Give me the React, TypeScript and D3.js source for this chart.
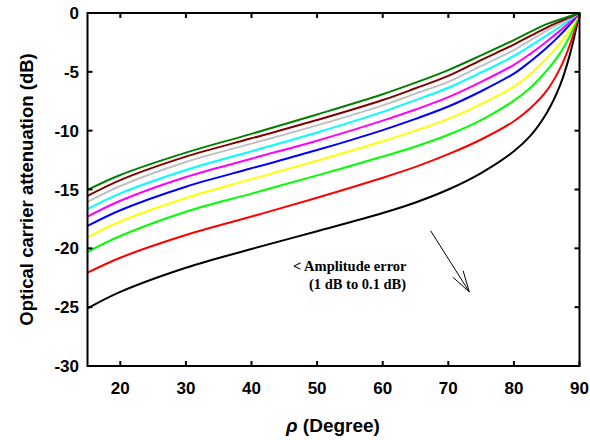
import * as d3 from 'd3';

// rho (degree) sample positions
const rho = [15, 20, 30, 40, 50, 60, 65, 70, 75, 80, 82.5, 85, 87, 88.5, 90];

// attenuation (dB) per curve, amplitude error 1 dB (black) down to 0.1 dB (dark green)
const black = [-25.1, -23.7, -21.65, -20.05, -18.55, -17.0, -16.1, -15.0, -13.6, -11.75, -10.45, -8.5, -6.2, -3.6, 0];
const red = [-22.07, -20.8, -18.87, -17.3, -15.7, -14.0, -13.08, -12.0, -10.75, -9.2, -8.1, -6.6, -4.75, -2.75, 0];
const green = [-20.3, -18.95, -16.89, -15.35, -13.8, -12.2, -11.35, -10.35, -9.1, -7.45, -6.35, -4.9, -3.45, -2.0, 0];
const yellow = [-19.06, -17.72, -15.72, -14.12, -12.55, -10.9, -10.0, -9.0, -7.75, -6.25, -5.2, -3.85, -2.6, -1.5, 0];
const blue = [-18.1, -16.76, -14.76, -13.2, -11.65, -9.95, -9.0, -7.95, -6.65, -5.15, -4.12, -2.95, -1.9, -1.0, 0];
const magenta = [-17.31, -15.96, -13.94, -12.38, -10.85, -9.15, -8.2, -7.15, -5.85, -4.4, -3.47, -2.42, -1.52, -0.78, 0];
const cyan = [-16.66, -15.33, -13.34, -11.75, -10.15, -8.4, -7.4, -6.35, -5.05, -3.65, -2.8, -1.9, -1.17, -0.58, 0];
const gray = [-16.06, -14.7, -12.66, -11.1, -9.55, -7.85, -6.85, -5.85, -4.5, -3.15, -2.32, -1.5, -0.9, -0.45, 0];
const brown = [-15.55, -14.2, -12.21, -10.65, -9.1, -7.4, -6.4, -5.35, -4.0, -2.68, -1.95, -1.24, -0.73, -0.36, 0];
const darkGreen = [-15.04, -13.77, -11.87, -10.27, -8.62, -6.9, -5.92, -4.85, -3.6, -2.3, -1.6, -0.95, -0.55, -0.27, 0];

const series = [
  { values: black, color: '#000000' },
  { values: red, color: '#ff0000' },
  { values: green, color: '#00ff00' },
  { values: yellow, color: '#ffff00' },
  { values: blue, color: '#0000ff' },
  { values: magenta, color: '#ff00ff' },
  { values: cyan, color: '#00ffff' },
  { values: gray, color: '#c0c0c0' },
  { values: brown, color: '#800000' },
  { values: darkGreen, color: '#008000' },
];

const xTicks = [20, 30, 40, 50, 60, 70, 80, 90];
const yTicks = [0, -5, -10, -15, -20, -25, -30];

const W = 590;
const H = 440;
const left = 87.5;
const right = 579.5;
const top = 13;
const bottom = 366;

export default function App() {
  const x = d3.scaleLinear().domain([15, 90]).range([left, right]);
  const y = d3.scaleLinear().domain([-30, 0]).range([bottom, top]);

  const line = d3
    .line<number>()
    .x((_, i) => x(rho[i]))
    .y((d) => y(d))
    .curve(d3.curveCatmullRom.alpha(0.5));

  // annotation arrow (data coords)
  const a0 = [x(67.3), y(-18.5)];
  const a1 = [x(73.2), y(-23.7)];
  const ang = Math.atan2(a1[1] - a0[1], a1[0] - a0[0]);
  const headLen = 22;
  const spread = 0.28;
  const h1 = [a1[0] - headLen * Math.cos(ang - spread), a1[1] - headLen * Math.sin(ang - spread)];
  const h2 = [a1[0] - headLen * Math.cos(ang + spread), a1[1] - headLen * Math.sin(ang + spread)];

  const tick = 5;
  const sans = 'Liberation Sans, Arial, sans-serif';
  const serif = 'Liberation Serif, Times New Roman, serif';

  return (
    <svg width={W} height={H} style={{ position: 'absolute', left: 0, top: 0, background: '#fff' }}>
      {series.map((s, i) => (
        <path key={i} d={line(s.values) ?? ''} fill="none" stroke={s.color} strokeWidth={2} />
      ))}

      {/* frame */}
      <rect x={left} y={top} width={right - left} height={bottom - top} fill="none" stroke="#000" strokeWidth={2} />

      {xTicks.map((t) => (
        <g key={'x' + t}>
          <line x1={x(t)} x2={x(t)} y1={bottom} y2={bottom - tick} stroke="#000" strokeWidth={2} />
          <line x1={x(t)} x2={x(t)} y1={top} y2={top + tick} stroke="#000" strokeWidth={2} />
          <text x={x(t)} y={394} textAnchor="middle" fontFamily={sans} fontWeight="bold" fontSize={17}>
            {t}
          </text>
        </g>
      ))}

      {yTicks.map((t) => (
        <g key={'y' + t}>
          <line x1={left} x2={left + tick} y1={y(t)} y2={y(t)} stroke="#000" strokeWidth={2} />
          <line x1={right} x2={right - tick} y1={y(t)} y2={y(t)} stroke="#000" strokeWidth={2} />
          <text x={79} y={y(t)} dy="0.36em" textAnchor="end" fontFamily={sans} fontWeight="bold" fontSize={17}>
            {t}
          </text>
        </g>
      ))}

      <text
        transform={`translate(33,${(top + bottom) / 2}) rotate(-90)`}
        textAnchor="middle"
        fontFamily={sans}
        fontWeight="bold"
        fontSize={18.5}
      >
        Optical carrier attenuation (dB)
      </text>

      <text x={333} y={432} textAnchor="middle" fontFamily={sans} fontWeight="bold" fontSize={19}>
        <tspan fontStyle="italic">ρ</tspan> (Degree)
      </text>

      {/* annotation */}
      <text x={293} y={271} fontFamily={serif} fontWeight="bold" fontSize={14.5}>
        {'< Amplitude error'}
      </text>
      <text x={309} y={289} fontFamily={serif} fontWeight="bold" fontSize={14.5}>
        (1 dB to 0.1 dB)
      </text>
      <line x1={a0[0]} y1={a0[1]} x2={a1[0]} y2={a1[1]} stroke="#000" strokeWidth={1} />
      <line x1={a1[0]} y1={a1[1]} x2={h1[0]} y2={h1[1]} stroke="#000" strokeWidth={1} />
      <line x1={a1[0]} y1={a1[1]} x2={h2[0]} y2={h2[1]} stroke="#000" strokeWidth={1} />
    </svg>
  );
}
